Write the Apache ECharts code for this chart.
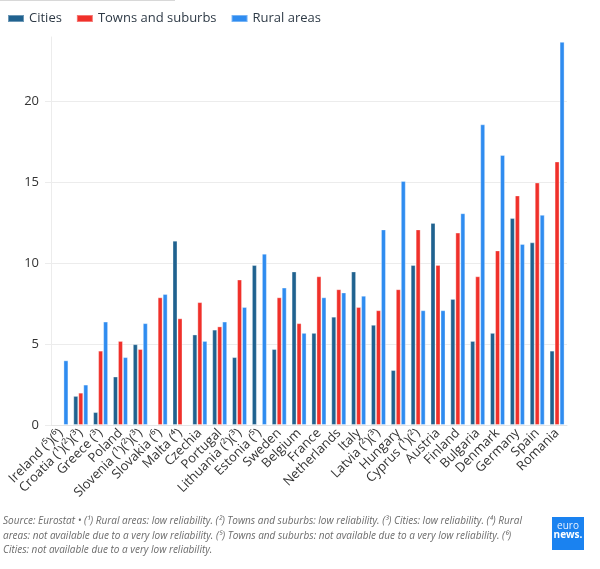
<!DOCTYPE html>
<html>
<head>
<meta charset="utf-8">
<script src="https://cdn.jsdelivr.net/npm/echarts@6/dist/echarts.min.js"></script>
<style>
  html, body { margin: 0; padding: 0; background: #fff; }
  #chart { width: 600px; height: 569px; }
</style>
</head>
<body>
<div id="chart"></div>
<script>
// countries, sorted like the source
const countries = [
  "Ireland (⁵)(⁶)", "Croatia (¹)(²)(³)", "Greece (³)", "Poland", "Slovenia (¹)(²)(³)",
  "Slovakia (⁶)", "Malta (⁴)", "Czechia", "Portugal", "Lithuania (²)(³)", "Estonia (⁵)",
  "Sweden", "Belgium", "France", "Netherlands", "Italy", "Latvia (²)(³)", "Hungary",
  "Cyprus (¹)(²)", "Austria", "Finland", "Bulgaria", "Denmark", "Germany", "Spain", "Romania"
];
const cities = [null, 1.8, 0.8, 3.0, 5.0, null, 11.4, 5.6, 5.9, 4.2, 9.9, 4.7, 9.5, 5.7, 6.7, 9.5, 6.2, 3.4, 9.9, 12.5, 7.8, 5.2, 5.7, 12.8, 11.3, 4.6];
const towns = [null, 2.0, 4.6, 5.2, 4.7, 7.9, 6.6, 7.6, 6.1, 9.0, null, 7.9, 6.3, 9.2, 8.4, 7.3, 7.1, 8.4, 12.1, 9.9, 11.9, 9.2, 10.8, 14.2, 15.0, 16.3];
const rural = [4.0, 2.5, 6.4, 4.2, 6.3, 8.1, null, 5.2, 6.4, 7.3, 10.6, 8.5, 5.7, 7.9, 8.2, 8.0, 12.1, 15.1, 7.1, 7.1, 13.1, 18.6, 16.7, 11.2, 13.0, 23.7];

const source = "Source: Eurostat • (¹) Rural areas: low reliability. (²) Towns and suburbs: low reliability. (³) Cities: low reliability. (⁴) Rural\nareas: not available due to a very low reliability. (⁵) Towns and suburbs: not available due to a very low reliability. (⁶)\nCities: not available due to a very low reliability.";

const chart = echarts.init(document.getElementById('chart'));
const barStyle = (c) => ({
  color: c,
  borderColor: 'rgba(255,255,255,0.35)',
  borderWidth: 1
});

chart.setOption({
  animation: false,
  textStyle: { fontFamily: '"Open Sans", sans-serif' },
  legend: {
    left: 2,
    top: 7,
    itemWidth: 16,
    itemHeight: 7,
    itemGap: 14,
    icon: 'rect',
    textStyle: { fontSize: 13, color: '#2e3a46' },
    data: ['Cities', 'Towns and suburbs', 'Rural areas']
  },
  grid: { left: 51, right: 33, top: 37, bottom: 144 },
  xAxis: {
    type: 'category',
    data: countries,
    axisLine: { lineStyle: { color: '#e4e4e4' } },
    axisTick: { alignWithLabel: true, length: 5, lineStyle: { color: '#e4e4e4' } },
    axisLabel: {
      interval: 0,
      rotate: 45,
      fontSize: 13,
      color: '#333',
      margin: 6
    }
  },
  yAxis: {
    type: 'value',
    min: 0,
    max: 24,
    interval: 5,
    axisLine: { show: true, lineStyle: { color: '#ececec' } },
    axisTick: { show: true, length: 6, lineStyle: { color: '#ececec' } },
    splitLine: { showMaxLine: false, lineStyle: { color: '#ececec' } },
    axisLabel: { showMaxLabel: false, fontSize: 13, color: '#333', margin: 12 }
  },
  graphic: [
    { type: 'line', shape: { x1: 0, y1: 0.5, x2: 175, y2: 0.5 }, style: { stroke: '#d8d8d8', lineWidth: 1 } },
    {
      type: 'text', left: 3, top: 514,
      style: { text: source, fontSize: 10, fontStyle: 'italic', fill: '#6b6b6b', lineHeight: 14.5, fontFamily: '"Open Sans", sans-serif' }
    },
    { type: 'rect', shape: { x: 552, y: 517, width: 32, height: 33 }, style: { fill: '#1a82f0' } },
    { type: 'text', x: 568, y: 531, style: { text: 'euro', fontSize: 10, fill: '#e6f0ff', align: 'center', verticalAlign: 'bottom', fontFamily: '"Open Sans", sans-serif' } },
    { type: 'text', x: 568, y: 530, style: { text: 'news.', fontSize: 10, fontWeight: 'bold', fill: '#fff', align: 'center', verticalAlign: 'top', fontFamily: '"Open Sans", sans-serif' } }
  ],
  series: [
    { name: 'Cities', type: 'bar', data: cities, barWidth: 5, barGap: '0%', itemStyle: barStyle('#20628f') },
    { name: 'Towns and suburbs', type: 'bar', data: towns, barWidth: 5, barGap: '0%', itemStyle: barStyle('#f0302a') },
    { name: 'Rural areas', type: 'bar', data: rural, barWidth: 5, barGap: '0%', itemStyle: barStyle('#2f8cf0') }
  ]
});
</script>
</body>
</html>
